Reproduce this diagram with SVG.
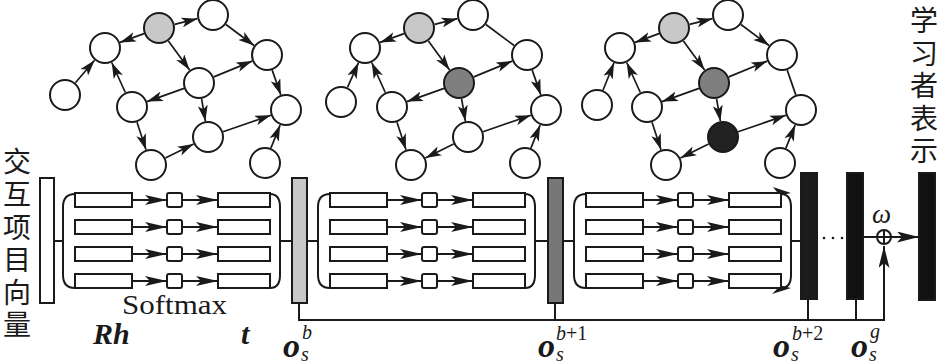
<svg xmlns="http://www.w3.org/2000/svg" width="946" height="363" viewBox="0 0 946 363">
<defs>
<style>
.nd{fill:#fff;stroke:#1a1a1a;stroke-width:2}
.e{stroke:#1a1a1a;stroke-width:1.7;fill:none}
.ea{stroke:#1a1a1a;stroke-width:1.7;fill:none;marker-end:url(#ga)}
.ln{stroke:#1a1a1a;stroke-width:2;fill:none}
.bx{fill:#fff;stroke:#1a1a1a;stroke-width:2}
.ra{stroke:#1a1a1a;stroke-width:1.8;fill:none;marker-end:url(#ra)}
.bar{stroke:#1a1a1a;stroke-width:2}
.cjk{font-family:"Noto Sans CJK SC","Noto Sans",sans-serif;font-size:28px;fill:#1a1a1a}
.ser{font-family:"Liberation Serif","Times New Roman",serif;fill:#1a1a1a}
.bi{font-family:"Liberation Serif","Times New Roman",serif;font-weight:bold;font-style:italic;fill:#1a1a1a}
.it{font-family:"Liberation Serif","Times New Roman",serif;font-style:italic;fill:#1a1a1a}
</style>
<marker id="ga" markerUnits="userSpaceOnUse" markerWidth="17" markerHeight="10" refX="16" refY="5" orient="auto"><path d="M0,0 L16,5 L0,10 L4,5 z" fill="#1a1a1a"/></marker>
<marker id="ra" markerUnits="userSpaceOnUse" markerWidth="22" markerHeight="10" refX="22" refY="5" orient="auto"><path d="M0,0 L22,5 L0,10 L5,5 z" fill="#1a1a1a"/></marker>
<marker id="ba" markerUnits="userSpaceOnUse" markerWidth="22" markerHeight="11" refX="22" refY="5.5" orient="auto"><path d="M0,0 L22,5.5 L0,11 L5,5.5 z" fill="#1a1a1a"/></marker>
</defs>
<rect width="946" height="363" fill="#fff"/>

<!-- Graph 1 -->
<g id="graph1">
<g id="connectors-g1">
<line class="ea" x1="144" y1="33.6" x2="120" y2="42.4"/>
<line class="ea" x1="174.6" y1="24.3" x2="197.4" y2="18.7"/>
<line class="ea" x1="225.9" y1="24.5" x2="254.1" y2="45.5"/>
<line class="ea" x1="168.4" y1="40.9" x2="189.6" y2="70.1"/>
<line class="ea" x1="213.8" y1="76.9" x2="252.2" y2="61.1"/>
<line class="ea" x1="184" y1="88.4" x2="147" y2="101.6"/>
<line class="ea" x1="201.6" y1="98.8" x2="205.4" y2="121.2"/>
<line class="ea" x1="272.2" y1="70.1" x2="280.8" y2="94.9"/>
<line class="ea" x1="75.4" y1="82.8" x2="94.6" y2="60.2"/>
<line class="ea" x1="125.3" y1="92.5" x2="111.7" y2="62.5"/>
<line class="ea" x1="137" y1="122.2" x2="146" y2="149.8"/>
<line class="ea" x1="165.4" y1="157.9" x2="193.6" y2="144.1"/>
<line class="ea" x1="223.1" y1="131.8" x2="270.9" y2="115.2"/>
<line class="ea" x1="270.9" y1="148.1" x2="280.1" y2="125.1"/>
</g>
<g id="g1-G"><circle class="nd" cx="159" cy="28" r="15" style="fill:#c8c8c8"/></g>
<g id="g1-T"><circle class="nd" cx="213" cy="15" r="15"/></g>
<g id="g1-L"><circle class="nd" cx="105" cy="48" r="15"/></g>
<g id="g1-F"><circle class="nd" cx="65" cy="95" r="15"/></g>
<g id="g1-C"><circle class="nd" cx="199" cy="83" r="15"/></g>
<g id="g1-RU"><circle class="nd" cx="267" cy="55" r="15"/></g>
<g id="g1-ML"><circle class="nd" cx="132" cy="107" r="15"/></g>
<g id="g1-RL"><circle class="nd" cx="286" cy="110" r="15"/></g>
<g id="g1-BC"><circle class="nd" cx="208" cy="137" r="15"/></g>
<g id="g1-BL"><circle class="nd" cx="151" cy="165" r="15"/></g>
<g id="g1-BR"><circle class="nd" cx="265" cy="163" r="15"/></g>
</g>

<!-- Graph 2 -->
<g id="graph2" transform="translate(260,0)">
<g id="connectors-g2">
<line class="ea" x1="144" y1="33.6" x2="120" y2="42.4"/>
<line class="ea" x1="174.6" y1="24.3" x2="197.4" y2="18.7"/>
<line class="e" x1="225.9" y1="24.5" x2="254.1" y2="45.5"/>
<line class="ea" x1="168.4" y1="40.9" x2="189.6" y2="70.1"/>
<line class="ea" x1="213.8" y1="76.9" x2="252.2" y2="61.1"/>
<line class="ea" x1="184" y1="88.4" x2="147" y2="101.6"/>
<line class="ea" x1="201.6" y1="98.8" x2="205.4" y2="121.2"/>
<line class="ea" x1="272.2" y1="70.1" x2="280.8" y2="94.9"/>
<line class="ea" x1="87.5" y1="87.4" x2="98.5" y2="62.6"/>
<line class="ea" x1="125.3" y1="92.5" x2="111.7" y2="62.5"/>
<line class="ea" x1="137" y1="122.2" x2="146" y2="149.8"/>
<line class="ea" x1="193.6" y1="144.1" x2="165.4" y2="157.9"/>
<line class="ea" x1="223.1" y1="131.8" x2="270.9" y2="115.2"/>
<line class="ea" x1="270.9" y1="148.1" x2="280.1" y2="125.1"/>
</g>
<g id="g2-G"><circle class="nd" cx="159" cy="28" r="15" style="fill:#c8c8c8"/></g>
<g id="g2-T"><circle class="nd" cx="213" cy="15" r="15"/></g>
<g id="g2-L"><circle class="nd" cx="105" cy="48" r="15"/></g>
<g id="g2-F"><circle class="nd" cx="81" cy="102" r="15"/></g>
<g id="g2-C"><circle class="nd" cx="199" cy="83" r="15" style="fill:#7f7f7f"/></g>
<g id="g2-RU"><circle class="nd" cx="267" cy="55" r="15"/></g>
<g id="g2-ML"><circle class="nd" cx="132" cy="107" r="15"/></g>
<g id="g2-RL"><circle class="nd" cx="286" cy="110" r="15"/></g>
<g id="g2-BC"><circle class="nd" cx="208" cy="137" r="15"/></g>
<g id="g2-BL"><circle class="nd" cx="151" cy="165" r="15"/></g>
<g id="g2-BR"><circle class="nd" cx="265" cy="163" r="15"/></g>
</g>

<!-- Graph 3 -->
<g id="graph3" transform="translate(515,0)">
<g id="connectors-g3">
<line class="ea" x1="144" y1="33.6" x2="120" y2="42.4"/>
<line class="ea" x1="174.6" y1="24.3" x2="197.4" y2="18.7"/>
<line class="ea" x1="225.9" y1="24.5" x2="254.1" y2="45.5"/>
<line class="ea" x1="168.4" y1="40.9" x2="189.6" y2="70.1"/>
<line class="ea" x1="213.8" y1="76.9" x2="252.2" y2="61.1"/>
<line class="ea" x1="184" y1="88.4" x2="147" y2="101.6"/>
<line class="ea" x1="201.6" y1="98.8" x2="205.4" y2="121.2"/>
<line class="e" x1="272.2" y1="70.1" x2="280.8" y2="94.9"/>
<line class="ea" x1="88" y1="90.2" x2="99" y2="62.8"/>
<line class="ea" x1="125.3" y1="92.5" x2="111.7" y2="62.5"/>
<line class="ea" x1="137" y1="122.2" x2="146" y2="149.8"/>
<line class="ea" x1="193.6" y1="144.1" x2="165.4" y2="157.9"/>
<line class="ea" x1="223.1" y1="131.8" x2="270.9" y2="115.2"/>
<line class="ea" x1="270.9" y1="148.1" x2="280.1" y2="125.1"/>
</g>
<g id="g3-G"><circle class="nd" cx="159" cy="28" r="15" style="fill:#c8c8c8"/></g>
<g id="g3-T"><circle class="nd" cx="213" cy="15" r="15"/></g>
<g id="g3-L"><circle class="nd" cx="105" cy="48" r="15"/></g>
<g id="g3-F"><circle class="nd" cx="82" cy="105" r="15"/></g>
<g id="g3-C"><circle class="nd" cx="199" cy="83" r="15" style="fill:#7f7f7f"/></g>
<g id="g3-RU"><circle class="nd" cx="267" cy="55" r="15"/></g>
<g id="g3-ML"><circle class="nd" cx="132" cy="107" r="15"/></g>
<g id="g3-RL"><circle class="nd" cx="286" cy="110" r="15"/></g>
<g id="g3-BC"><circle class="nd" cx="208" cy="137" r="15" style="fill:#222"/></g>
<g id="g3-BL"><circle class="nd" cx="151" cy="165" r="15"/></g>
<g id="g3-BR"><circle class="nd" cx="265" cy="163" r="15"/></g>
</g>

<!-- Pipeline connectors -->
<g id="connectors">
<line class="ln" x1="54" y1="241" x2="63" y2="241"/>
<line class="ln" x1="280" y1="241" x2="292" y2="241"/>
<line class="ln" x1="307" y1="241" x2="318" y2="241"/>
<line class="ln" x1="535" y1="241" x2="548" y2="241"/>
<line class="ln" x1="563" y1="241" x2="574" y2="241"/>
<line class="ln" x1="791" y1="241" x2="801" y2="241"/>
<path class="ln" d="M299,303 V320 H884 V246" style="marker-end:url(#ba)"/>
<line class="ln" x1="555" y1="303" x2="555" y2="320"/>
<line class="ln" x1="808" y1="299" x2="808" y2="320"/>
<line class="ln" x1="856" y1="299" x2="856" y2="320"/>
<line class="ln" x1="863" y1="237" x2="877" y2="237"/>
<line class="ln" x1="891" y1="237" x2="919" y2="237" style="marker-end:url(#ba)"/>
</g>

<!-- Attention blocks -->
<g id="block1">
<path class="ln" d="M75,194 C67,194 63,199 63,207 V275 C63,283 67,288 75,288"/>
<path class="ln" d="M270,194 C277,194 280,199 280,207 V275 C280,283 277,288 270,288"/>
<rect class="bx" x="75" y="193" width="57" height="14"/><rect class="bx" x="167" y="193" width="15" height="14" rx="2"/><rect class="bx" x="218" y="193" width="52" height="14"/>
<line class="ra" x1="132" y1="200" x2="167" y2="200"/><line class="ra" x1="182" y1="200" x2="218" y2="200"/>
<rect class="bx" x="75" y="220" width="57" height="14"/><rect class="bx" x="167" y="220" width="15" height="14" rx="2"/><rect class="bx" x="218" y="220" width="52" height="14"/>
<line class="ra" x1="132" y1="227" x2="167" y2="227"/><line class="ra" x1="182" y1="227" x2="218" y2="227"/>
<rect class="bx" x="75" y="247" width="57" height="14"/><rect class="bx" x="167" y="247" width="15" height="14" rx="2"/><rect class="bx" x="218" y="247" width="52" height="14"/>
<line class="ra" x1="132" y1="254" x2="167" y2="254"/><line class="ra" x1="182" y1="254" x2="218" y2="254"/>
<rect class="bx" x="75" y="274" width="57" height="14"/><rect class="bx" x="167" y="274" width="15" height="14" rx="2"/><rect class="bx" x="218" y="274" width="52" height="14"/>
<line class="ra" x1="132" y1="281" x2="167" y2="281"/><line class="ra" x1="182" y1="281" x2="218" y2="281"/>
</g>
<g id="block2" transform="translate(255,0)">
<path class="ln" d="M75,194 C67,194 63,199 63,207 V275 C63,283 67,288 75,288"/>
<path class="ln" d="M270,194 C277,194 280,199 280,207 V275 C280,283 277,288 270,288"/>
<rect class="bx" x="75" y="193" width="57" height="14"/><rect class="bx" x="167" y="193" width="15" height="14" rx="2"/><rect class="bx" x="218" y="193" width="52" height="14"/>
<line class="ra" x1="132" y1="200" x2="167" y2="200"/><line class="ra" x1="182" y1="200" x2="218" y2="200"/>
<rect class="bx" x="75" y="220" width="57" height="14"/><rect class="bx" x="167" y="220" width="15" height="14" rx="2"/><rect class="bx" x="218" y="220" width="52" height="14"/>
<line class="ra" x1="132" y1="227" x2="167" y2="227"/><line class="ra" x1="182" y1="227" x2="218" y2="227"/>
<rect class="bx" x="75" y="247" width="57" height="14"/><rect class="bx" x="167" y="247" width="15" height="14" rx="2"/><rect class="bx" x="218" y="247" width="52" height="14"/>
<line class="ra" x1="132" y1="254" x2="167" y2="254"/><line class="ra" x1="182" y1="254" x2="218" y2="254"/>
<rect class="bx" x="75" y="274" width="57" height="14"/><rect class="bx" x="167" y="274" width="15" height="14" rx="2"/><rect class="bx" x="218" y="274" width="52" height="14"/>
<line class="ra" x1="132" y1="281" x2="167" y2="281"/><line class="ra" x1="182" y1="281" x2="218" y2="281"/>
</g>
<g id="block3" transform="translate(511,0)">
<path class="ln" d="M75,194 C67,194 63,199 63,207 V275 C63,283 67,288 75,288"/>
<path class="ln" d="M270,194 C277,194 280,199 280,207 V275 C280,283 277,288 270,288"/>
<polygon points="280,193 262,187 266,192 263,197" fill="#1a1a1a"/>
<polygon points="280,288 263,284 266,289 261,294" fill="#1a1a1a"/>
<rect class="bx" x="75" y="193" width="57" height="14"/><rect class="bx" x="167" y="193" width="15" height="14" rx="2"/><rect class="bx" x="218" y="193" width="52" height="14"/>
<line class="ra" x1="132" y1="200" x2="167" y2="200"/><line class="ra" x1="182" y1="200" x2="218" y2="200"/>
<rect class="bx" x="75" y="220" width="57" height="14"/><rect class="bx" x="167" y="220" width="15" height="14" rx="2"/><rect class="bx" x="218" y="220" width="52" height="14"/>
<line class="ra" x1="132" y1="227" x2="167" y2="227"/><line class="ra" x1="182" y1="227" x2="218" y2="227"/>
<rect class="bx" x="75" y="247" width="57" height="14"/><rect class="bx" x="167" y="247" width="15" height="14" rx="2"/><rect class="bx" x="218" y="247" width="52" height="14"/>
<line class="ra" x1="132" y1="254" x2="167" y2="254"/><line class="ra" x1="182" y1="254" x2="218" y2="254"/>
<rect class="bx" x="75" y="274" width="57" height="14"/><rect class="bx" x="167" y="274" width="15" height="14" rx="2"/><rect class="bx" x="218" y="274" width="52" height="14"/>
<line class="ra" x1="132" y1="281" x2="167" y2="281"/><line class="ra" x1="182" y1="281" x2="218" y2="281"/>
</g>

<!-- Bars -->
<g id="input-bar"><rect class="bar" x="40" y="178" width="14" height="125" fill="#fff"/></g>
<g id="bar-b"><rect class="bar" x="292" y="178" width="15" height="125" fill="#c8c8c8"/></g>
<g id="bar-b1"><rect class="bar" x="548" y="178" width="15" height="125" fill="#777"/></g>
<g id="bar-b2"><rect class="bar" x="801" y="173" width="16" height="126" fill="#1c1c1c"/></g>
<g id="bar-g"><rect class="bar" x="847" y="173" width="16" height="126" fill="#111"/></g>
<g id="output-bar"><rect class="bar" x="919" y="173" width="16" height="127" fill="#111"/></g>
<g id="dots" fill="#1a1a1a"><circle cx="824" cy="238" r="1.3"/><circle cx="833" cy="238" r="1.3"/><circle cx="842" cy="238" r="1.3"/></g>
<g id="sum-node">
<circle cx="884" cy="237" r="7" fill="#fff" stroke="#1a1a1a" stroke-width="2"/>
<line class="ln" x1="877" y1="237" x2="891" y2="237"/>
<line class="ln" x1="884" y1="230" x2="884" y2="244"/>
</g>

<!-- Texts -->
<text class="cjk" text-anchor="middle"><tspan x="17" y="172">交</tspan><tspan x="17" y="205">互</tspan><tspan x="17" y="238">项</tspan><tspan x="17" y="270">目</tspan><tspan x="17" y="303">向</tspan><tspan x="17" y="335">量</tspan></text>
<text class="cjk" text-anchor="middle"><tspan x="924" y="31">学</tspan><tspan x="924" y="64">习</tspan><tspan x="924" y="96">者</tspan><tspan x="924" y="129">表</tspan><tspan x="924" y="161">示</tspan></text>
<text class="ser" x="122" y="314" font-size="28" textLength="105" lengthAdjust="spacingAndGlyphs">Softmax</text>
<text class="bi" x="93" y="344" font-size="30">Rh</text>
<text class="bi" x="241" y="344" font-size="30">t</text>
<text class="it" x="872" y="223" font-size="27">ω</text>
<g id="label-b"><text class="bi" x="283" y="357" font-size="34">o</text><text class="it" x="302" y="339" font-size="20">b</text><text class="it" x="301" y="361" font-size="20">s</text></g>
<g id="label-b1"><text class="bi" x="538" y="357" font-size="34">o</text><text class="it" x="556" y="340" font-size="20">b<tspan font-style="normal">+1</tspan></text><text class="it" x="556" y="361" font-size="20">s</text></g>
<g id="label-b2"><text class="bi" x="773" y="357" font-size="34">o</text><text class="it" x="792" y="340" font-size="20">b<tspan font-style="normal">+2</tspan></text><text class="it" x="791" y="361" font-size="20">s</text></g>
<g id="label-g"><text class="bi" x="851" y="357" font-size="34">o</text><text class="it" x="870" y="338" font-size="20">g</text><text class="it" x="869" y="361" font-size="20">s</text></g>
</svg>
